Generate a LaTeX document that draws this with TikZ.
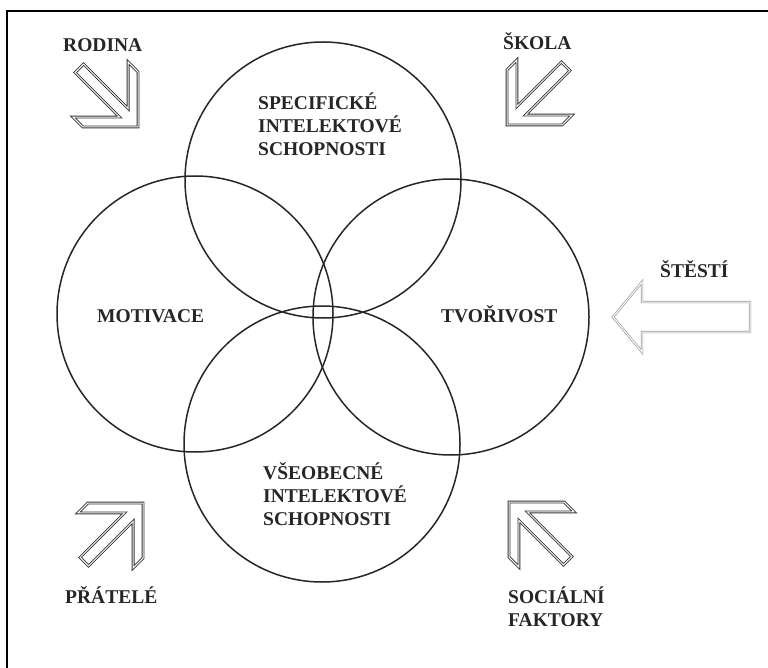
\documentclass[tikz,border=0pt]{standalone}
\usepackage{fontspec}
\setmainfont{Liberation Serif}
\usetikzlibrary{shapes.geometric}
\tikzstyle{ring} = [circle, draw=black!85, line width=1.5pt, minimum size=276pt, inner sep=0pt]
\tikzstyle{heading} = [font=\fontsize{19.5}{23}\selectfont\bfseries, text=black!85, inner sep=0pt, align=left, anchor=base west]
\tikzstyle{frame} = [draw=black, line width=1.8pt]
\tikzstyle{bentarrow} = [draw=black!80, line width=0.9pt, double=white, double distance=1pt, line join=miter]
\tikzstyle{flatarrow} = [draw=black!40, line width=0.7pt, double=white, double distance=1pt, line join=miter]
\tikzset{pics/cornerarrow/.style={code={
  \draw[bentarrow] (0,0) -- (-39,39) -- (-53,39) -- (-20,6) -- (-83,6) -- (-83,-6) -- (-20,-6) -- (-53,-39) -- (-39,-39) -- cycle;
}}}
\begin{document}
\begin{tikzpicture}[x=1pt, y=-1pt]
        \useasboundingbox (0,0) rectangle (768,668);
        \draw[frame] (7,668) -- (7,11) -- (768,11);
        % the four circles
        \node (spec) [ring] at (323,180) {};
        \node (motiv) [ring] at (195,314) {};
        \node (tvor) [ring] at (451,317) {};
        \node (vseob) [ring] at (322,444) {};
        % texts (base = last line)
        \node (spec-text) [heading] at (258,156) {SPECIFICKÉ\\INTELEKTOVÉ\\SCHOPNOSTI};
        \node (motiv-text) [heading] at (97,322) {MOTIVACE};
        \node (tvor-text) [heading] at (441,322) {TVOŘIVOST};
        \node (vseob-text) [heading] at (263,525) {VŠEOBECNÉ\\INTELEKTOVÉ\\SCHOPNOSTI};
        \node (rodina) [heading] at (63,52) {RODINA};
        \node (skola) [heading] at (503,50) {ŠKOLA};
        \node (stesti) [heading] at (660,278) {ŠTĚSTÍ};
        \node (pratele) [heading] at (65,603) {PŘÁTELÉ};
        \node (social) [heading] at (508,626) {SOCIÁLNÍ\\FAKTORY};
        % arrows
        \pic[rotate=-45] at (138,127) {cornerarrow};
        \pic[rotate=-135] at (507,125) {cornerarrow};
        \pic[rotate=45] at (143,503) {cornerarrow};
        \pic[rotate=135] at (509,502) {cornerarrow};
        \draw[flatarrow] (750,302) -- (642,302) -- (642,282) -- (613,317) -- (642,352) -- (642,332) -- (750,332) -- cycle;
    \end{tikzpicture}
\end{document}
